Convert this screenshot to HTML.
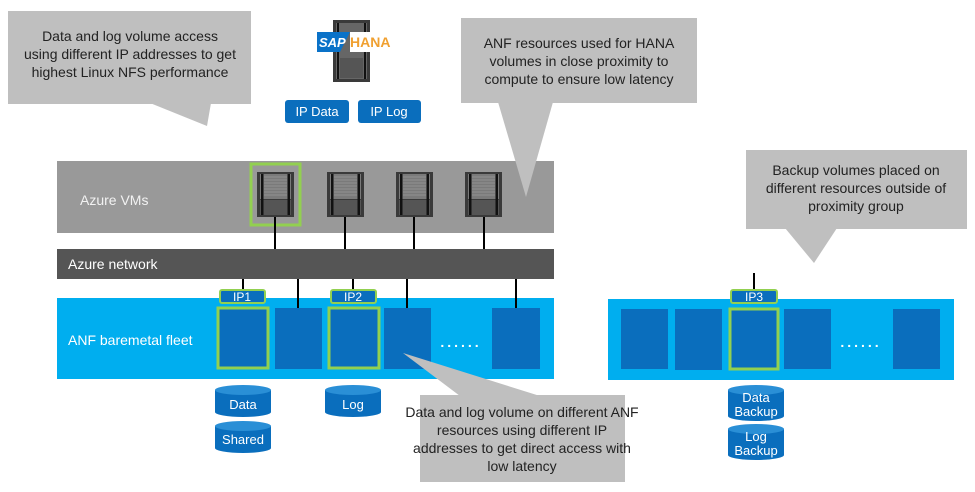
<!DOCTYPE html>
<html><head><meta charset="utf-8"><style>
body{margin:0;background:#fff}
svg{display:block}
text{font-family:"Liberation Sans",Arial,sans-serif}
</style></head><body>
<svg width="975" height="492" viewBox="0 0 975 492" xmlns="http://www.w3.org/2000/svg">
<defs>
<g id="srv">
<rect x="0" y="0" width="37" height="45" fill="#3a3a3a"/>
<rect x="3" y="2" width="31" height="25" fill="#7a7a7a"/>
<rect x="3" y="28" width="31" height="15" fill="#555"/>
<rect x="4" y="2" width="2.5" height="41" fill="#111"/>
<rect x="30.5" y="2" width="2.5" height="41" fill="#111"/>
<g stroke="#aaa" stroke-width="0.6"><line x1="7" y1="5" x2="30" y2="5"/><line x1="7" y1="8" x2="30" y2="8"/><line x1="7" y1="11" x2="30" y2="11"/><line x1="7" y1="14" x2="30" y2="14"/><line x1="7" y1="17" x2="30" y2="17"/><line x1="7" y1="20" x2="30" y2="20"/><line x1="7" y1="23" x2="30" y2="23"/></g>
</g>
<g id="cyl">
<path d="M0 5 V27 A28 5 0 0 0 56 27 V5" fill="#0a6ebd"/>
<ellipse cx="28" cy="5" rx="28" ry="5" fill="#2a8fd6"/>
</g>
<g id="cyl2">
<path d="M0 5 V31 A28 5 0 0 0 56 31 V5" fill="#0a6ebd"/>
<ellipse cx="28" cy="5" rx="28" ry="5" fill="#2a8fd6"/>
</g>
</defs>

<rect x="8" y="11" width="243" height="93" fill="#bfbfbf"/>
<polygon points="150,103 211,103 207,126" fill="#bfbfbf"/>
<text font-size="14" fill="#222" text-anchor="middle"><tspan x="130" y="41">Data and log volume access</tspan><tspan x="130" y="59">using different IP addresses to get</tspan><tspan x="130" y="77">highest Linux NFS performance</tspan></text>

<rect x="333" y="20" width="37" height="62" fill="#3a3a3a"/>
<rect x="336" y="23" width="31" height="56" fill="#666"/>
<rect x="337" y="23" width="2" height="56" fill="#111"/><rect x="364" y="23" width="2" height="56" fill="#111"/>
<rect x="340" y="58" width="23" height="20" fill="#555"/>
<polygon points="317,32 350,32 340,52 317,52" fill="#0a72c8"/>
<text x="319" y="47" font-size="13" font-weight="bold" fill="#fff" font-style="italic">SAP</text>
<rect x="350" y="32" width="38" height="20" fill="#fff"/>
<text x="350" y="47" font-size="14" font-weight="bold" fill="#f0a030">HANA</text>
<rect x="285" y="100" width="64" height="23" rx="3" fill="#0a6ebd"/>
<text x="317" y="116" font-size="13" fill="#fff" text-anchor="middle">IP Data</text>
<rect x="358" y="100" width="63" height="23" rx="3" fill="#0a6ebd"/>
<text x="389" y="116" font-size="13" fill="#fff" text-anchor="middle">IP Log</text>

<rect x="57" y="161" width="497" height="72" fill="#999"/>
<text x="80" y="205" font-size="14" fill="#f2f2f2">Azure VMs</text>
<rect x="461" y="18" width="236" height="85" fill="#bfbfbf"/>
<polygon points="498,102 553,102 526,197" fill="#bfbfbf"/>
<text font-size="14" fill="#222" text-anchor="middle"><tspan x="579" y="48">ANF resources used for HANA</tspan><tspan x="579" y="66">volumes in close proximity to</tspan><tspan x="579" y="84">compute to ensure low latency</tspan></text>

<rect x="251" y="164" width="49" height="61" fill="none" stroke="#92d050" stroke-width="3"/>
<use href="#srv" x="257" y="172"/>
<use href="#srv" x="327" y="172"/>
<use href="#srv" x="396" y="172"/>
<use href="#srv" x="465" y="172"/>
<g stroke="#000" stroke-width="2">
<line x1="275" y1="217" x2="275" y2="249"/>
<line x1="345" y1="217" x2="345" y2="249"/>
<line x1="414" y1="217" x2="414" y2="249"/>
<line x1="484" y1="217" x2="484" y2="249"/>
</g>

<rect x="57" y="249" width="497" height="30" fill="#555"/>
<text x="68" y="269" font-size="14" fill="#fff">Azure network</text>

<rect x="57" y="298" width="497" height="81" fill="#00aeef"/>
<text x="68" y="345" font-size="14" fill="#fff">ANF baremetal fleet</text>
<g stroke="#000" stroke-width="2">
<line x1="243" y1="279" x2="243" y2="291"/>
<line x1="298" y1="279" x2="298" y2="309"/>
<line x1="353" y1="279" x2="353" y2="291"/>
<line x1="407" y1="279" x2="407" y2="309"/>
<line x1="516" y1="279" x2="516" y2="309"/>
</g>
<rect x="218" y="308" width="50" height="60" fill="#0a6ebd" stroke="#92d050" stroke-width="3"/>
<rect x="275" y="308" width="47" height="61" fill="#0a6ebd"/>
<rect x="329" y="308" width="50" height="60" fill="#0a6ebd" stroke="#92d050" stroke-width="3"/>
<rect x="384" y="308" width="47" height="61" fill="#0a6ebd"/>
<rect x="492" y="308" width="48" height="61" fill="#0a6ebd"/>
<text x="461" y="347" font-size="14" font-weight="bold" fill="#fff" text-anchor="middle" letter-spacing="3">......</text>
<rect x="220" y="290" width="45" height="13" rx="2" fill="#0a6ebd" stroke="#92d050" stroke-width="2"/>
<text x="242" y="301" font-size="12" fill="#fff" text-anchor="middle">IP1</text>
<rect x="331" y="290" width="45" height="13" rx="2" fill="#0a6ebd" stroke="#92d050" stroke-width="2"/>
<text x="353" y="301" font-size="12" fill="#fff" text-anchor="middle">IP2</text>

<use href="#cyl" x="215" y="385"/>
<text x="243" y="409" font-size="13" fill="#fff" text-anchor="middle">Data</text>
<use href="#cyl" x="215" y="421"/>
<text x="243" y="444" font-size="13" fill="#fff" text-anchor="middle">Shared</text>
<use href="#cyl" x="325" y="385"/>
<text x="353" y="409" font-size="13" fill="#fff" text-anchor="middle">Log</text>

<polygon points="403,353 460,396 540,396" fill="#bfbfbf"/>
<rect x="420" y="395" width="205" height="87" fill="#bfbfbf"/>
<text font-size="14" fill="#222" text-anchor="middle"><tspan x="522" y="417">Data and log volume on different ANF</tspan><tspan x="522" y="435">resources using different IP</tspan><tspan x="522" y="453">addresses to get direct access with</tspan><tspan x="522" y="471">low latency</tspan></text>

<rect x="746" y="150" width="221" height="79" fill="#bfbfbf"/>
<polygon points="785,228 837,228 814,263" fill="#bfbfbf"/>
<text font-size="14" fill="#222" text-anchor="middle"><tspan x="856" y="175">Backup volumes placed on</tspan><tspan x="856" y="193">different resources outside of</tspan><tspan x="856" y="211">proximity group</tspan></text>

<rect x="608" y="299" width="346" height="81" fill="#00aeef"/>
<line x1="754" y1="273" x2="754" y2="291" stroke="#000" stroke-width="2"/>
<rect x="621" y="309" width="47" height="60" fill="#0a6ebd"/>
<rect x="675" y="309" width="47" height="61" fill="#0a6ebd"/>
<rect x="730" y="309" width="48" height="60" fill="#0a6ebd" stroke="#92d050" stroke-width="3"/>
<rect x="784" y="309" width="47" height="60" fill="#0a6ebd"/>
<rect x="893" y="309" width="47" height="60" fill="#0a6ebd"/>
<text x="861" y="347" font-size="14" font-weight="bold" fill="#fff" text-anchor="middle" letter-spacing="3">......</text>
<rect x="731" y="290" width="46" height="13" rx="2" fill="#0a6ebd" stroke="#92d050" stroke-width="2"/>
<text x="754" y="301" font-size="12" fill="#fff" text-anchor="middle">IP3</text>

<use href="#cyl2" x="728" y="385"/>
<text font-size="13" fill="#fff" text-anchor="middle"><tspan x="756" y="402">Data</tspan><tspan x="756" y="416">Backup</tspan></text>
<use href="#cyl2" x="728" y="424"/>
<text font-size="13" fill="#fff" text-anchor="middle"><tspan x="756" y="441">Log</tspan><tspan x="756" y="455">Backup</tspan></text>
</svg>
</body></html>
